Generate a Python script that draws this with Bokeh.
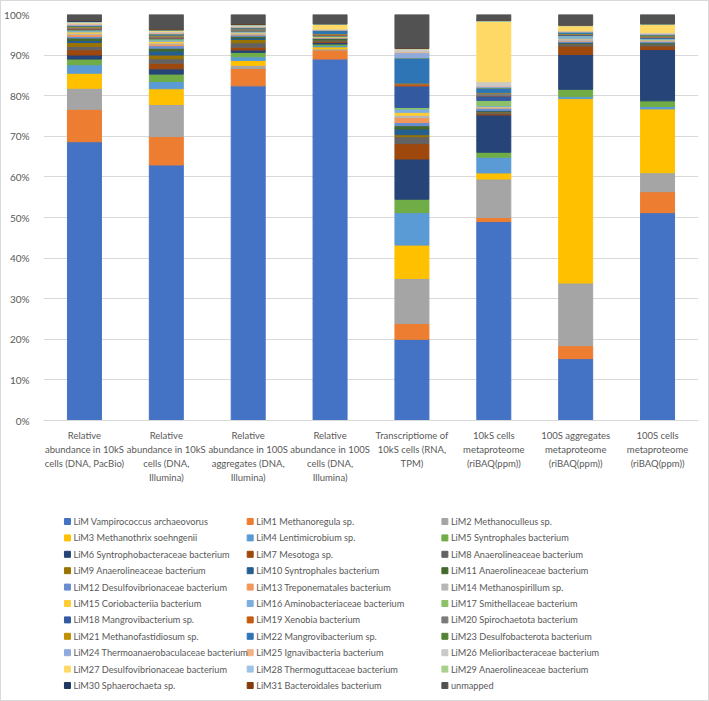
from bokeh.plotting import figure
from bokeh.models import ColumnDataSource, FactorRange, Range1d, PrintfTickFormatter, FixedTicker
from bokeh.layouts import column
from bokeh.core.properties import value
from bokeh.embed import file_html
from bokeh.resources import INLINE

categories = [
    "Relative\nabundance in 10kS\ncells (DNA, PacBio)",
    "Relative\nabundance in 10kS\ncells (DNA,\nIllumina)",
    "Relative\nabundance in 100S\naggregates (DNA,\nIllumina)",
    "Relative\nabundance in 100S\ncells (DNA,\nIllumina)",
    "Transcriptiome of\n10kS cells (RNA,\nTPM)",
    "10kS cells\nmetaproteome\n(riBAQ(ppm))",
    "100S aggregates\nmetaproteome\n(riBAQ(ppm))",
    "100S cells\nmetaproteome\n(riBAQ(ppm))",
]

series_names = [
    "LiM Vampirococcus archaeovorus", "LiM1 Methanoregula sp.", "LiM2 Methanoculleus sp.",
    "LiM3 Methanothrix soehngenii", "LiM4 Lentimicrobium sp.", "LiM5 Syntrophales bacterium",
    "LiM6 Syntrophobacteraceae bacterium", "LiM7 Mesotoga sp.", "LiM8 Anaerolineaceae bacterium",
    "LiM9 Anaerolineaceae bacterium", "LiM10 Syntrophales bacterium", "LiM11 Anaerolineaceae bacterium",
    "LiM12 Desulfovibrionaceae bacterium", "LiM13 Treponematales bacterium", "LiM14 Methanospirillum sp.",
    "LiM15 Coriobacteriia bacterium", "LiM16 Aminobacteriaceae bacterium", "LiM17 Smithellaceae bacterium",
    "LiM18 Mangrovibacterium sp.", "LiM19 Xenobia bacterium", "LiM20 Spirochaetota bacterium",
    "LiM21 Methanofastidiosum sp.", "LiM22 Mangrovibacterium sp.", "LiM23 Desulfobacterota bacterium",
    "LiM24 Thermoanaerobaculaceae bacterium", "LiM25 Ignavibacteria bacterium", "LiM26 Melioribacteraceae bacterium",
    "LiM27 Desulfovibrionaceae bacterium", "LiM28 Thermoguttaceae bacterium", "LiM29 Anaerolineaceae bacterium",
    "LiM30 Sphaerochaeta sp.", "LiM31 Bacteroidales bacterium", "unmapped",
]

colors = [
    "#4472C4", "#ED7D31", "#A5A5A5", "#FFC000", "#5B9BD5", "#70AD47",
    "#264478", "#9E480E", "#636363", "#997300", "#255E91", "#43682B",
    "#698ED0", "#F1975A", "#B7B7B7", "#FFCD33", "#7CAFDD", "#8CC168",
    "#335AA1", "#C55A11", "#7B7B7B", "#BF9000", "#2E75B6", "#548235",
    "#8FAADC", "#F4B183", "#C9C9C9", "#FFD966", "#9DC3E6", "#A9D18E",
    "#203864", "#843C0C", "#525252",
]

# values per bar (one list per category, in series order)
dna_pacbio_10k = [68.8, 8.0, 5.2, 3.7, 2.1, 1.4, 1.0, 1.3, 0.8, 1.0, 0.5, 0.6,
                  0.4, 0.5, 0.3, 0.3, 0.3, 0.2, 0.2, 0.2, 0.3, 0.2, 0.1, 0.1,
                  0.2, 0.2, 0.2, 0.2, 0.1, 0.1, 0.2, 0.1, 1.4]
dna_illumina_10k = [63.0, 7.0, 7.9, 3.9, 1.8, 1.8, 1.3, 1.4, 1.1, 0.9, 1.0, 0.7,
                    0.6, 0.4, 0.3, 0.4, 0.3, 0.3, 0.2, 0.2, 0.3, 0.2, 0.2, 0.1,
                    0.2, 0.2, 0.2, 0.2, 0.1, 0.1, 0.1, 0.1, 3.6]
dna_illumina_100s_agg = [83.0, 4.3, 0.8, 1.2, 0.9, 1.1, 0.6, 0.7, 1.1, 0.8, 0.4, 0.4,
                         0.3, 0.2, 0.3, 0.2, 0.2, 0.1, 0.1, 0.1, 0.4, 0.1, 0.1, 0.1,
                         0.1, 0.1, 0.2, 0.1, 0.1, 0.1, 0.1, 0.1, 2.3]
dna_illumina_100s_cells = [89.3, 2.2, 0.3, 0.5, 0.3, 0.4, 0.4, 0.2, 0.2, 0.2, 0.2, 0.2,
                           0.1, 0.1, 0.1, 0.1, 0.1, 0.1, 0.2, 0.1, 0.2, 0.1, 0.7, 0.1,
                           0.1, 0.1, 0.1, 1.2, 0.05, 0.05, 0.05, 0.05, 2.2]
rna_10k = [20.0, 3.9, 11.1, 8.2, 8.0, 3.3, 9.9, 3.8, 1.7, 0.5, 1.4, 0.8,
           0.8, 1.2, 0.6, 0.7, 0.8, 0.4, 5.3, 0.5, 0.1, 0.1, 6.1, 0.1,
           1.3, 0.2, 0.6, 0.1, 0.1, 0.1, 0.05, 0.05, 8.2]
prot_10k = [49.1, 1.0, 9.5, 1.5, 3.9, 1.2, 9.2, 0.3, 0.4, 0.1, 0.2, 0.1,
            0.5, 0.1, 0.3, 0.1, 0.2, 1.3, 1.1, 0.1, 0.6, 0.1, 1.1, 0.1,
            0.4, 0.1, 1.0, 14.9, 0.1, 0.1, 0.05, 0.05, 1.4]
prot_100s_agg = [15.3, 3.2, 15.5, 45.6, 0.5, 1.8, 8.6, 2.1, 0.5, 0.1, 0.2, 0.1,
                 0.3, 0.1, 0.5, 0.1, 0.6, 0.1, 0.2, 0.1, 0.1, 0.1, 0.2, 0.1,
                 0.2, 0.1, 0.1, 1.2, 0.1, 0.1, 0.05, 0.05, 2.5]
prot_100s_cells = [51.5, 5.2, 4.7, 15.8, 0.6, 1.4, 12.7, 0.9, 0.4, 0.1, 0.2, 0.1,
                   0.3, 0.1, 0.2, 0.1, 0.3, 0.1, 0.2, 0.1, 0.2, 0.1, 0.2, 0.1,
                   0.2, 0.1, 0.2, 2.0, 0.1, 0.1, 0.05, 0.05, 2.2]

bars = [dna_pacbio_10k, dna_illumina_10k, dna_illumina_100s_agg, dna_illumina_100s_cells,
        rna_10k, prot_10k, prot_100s_agg, prot_100s_cells]

FONT = "Lato"
TXT = "#595959"
W = 707
LEFT, RIGHT = 41, 10

# 100% stacked: normalise each bar
data = {"cat": categories}
keys = []
for j in range(len(series_names)):
    k = f"s{j}"
    keys.append(k)
    data[k] = [b[j] / sum(b) * 100.0 for b in bars]
src = ColumnDataSource(data)

p = figure(width=W, height=508, x_range=FactorRange(*categories), y_range=Range1d(0, 100),
           output_backend="svg", toolbar_location=None,
           min_border_left=LEFT, min_border_right=RIGHT, min_border_top=13, min_border_bottom=89)
p.vbar_stack(keys, x="cat", width=0.415, color=colors, source=src)

p.outline_line_color = None
p.xgrid.grid_line_color = None
p.ygrid.grid_line_color = "#D9D9D9"
p.ygrid.grid_line_width = 1
p.yaxis.ticker = FixedTicker(ticks=list(range(0, 101, 10)))
p.yaxis.formatter = PrintfTickFormatter(format="%d%%")
p.yaxis.axis_line_color = None
p.yaxis.major_tick_line_color = None
p.yaxis.minor_tick_line_color = None
p.yaxis.major_label_standoff = 8
p.yaxis.major_label_text_font_size = "10px"
p.xaxis.axis_line_color = "#D9D9D9"
p.xaxis.major_tick_line_color = None
p.xaxis.minor_tick_line_color = None
p.xaxis.major_label_standoff = 3
p.xaxis.major_label_text_font_size = "9.5px"
for ax in (p.xaxis, p.yaxis):
    ax.major_label_text_font = FONT
    ax.major_label_text_color = TXT
p.xaxis.major_label_text_line_height = 1.3

# legend, drawn as its own panel (3 columns, row-major order)
LH = 191
leg = figure(width=W, height=LH, x_range=Range1d(LEFT, W - RIGHT), y_range=Range1d(LH, 0),
             output_backend="svg", toolbar_location=None,
             min_border_left=LEFT, min_border_right=RIGHT, min_border_top=0, min_border_bottom=0,
             x_axis_type=None, y_axis_type=None)
leg.outline_line_color = None
leg.grid.visible = False
col_x = [65, 248, 443]
lx, ly = [], []
for i in range(len(series_names)):
    lx.append(col_x[i % 3])
    ly.append(12 + (i // 3) * 16.4)
lsrc = ColumnDataSource(dict(x=lx, y=ly, tx=[v + 6 for v in lx], name=series_names, color=colors))
leg.scatter(x="x", y="y", marker="square", size=6, color="color", source=lsrc)
leg.text(x="tx", y="y", text="name", source=lsrc, text_baseline="middle", text_align="left",
         text_font=value(FONT), text_font_size="9.2px", text_color=TXT)

layout = column(p, leg, spacing=0, styles={"border": "1px solid #D9D9D9"})
open("out.html", "w").write(file_html(layout, INLINE))
